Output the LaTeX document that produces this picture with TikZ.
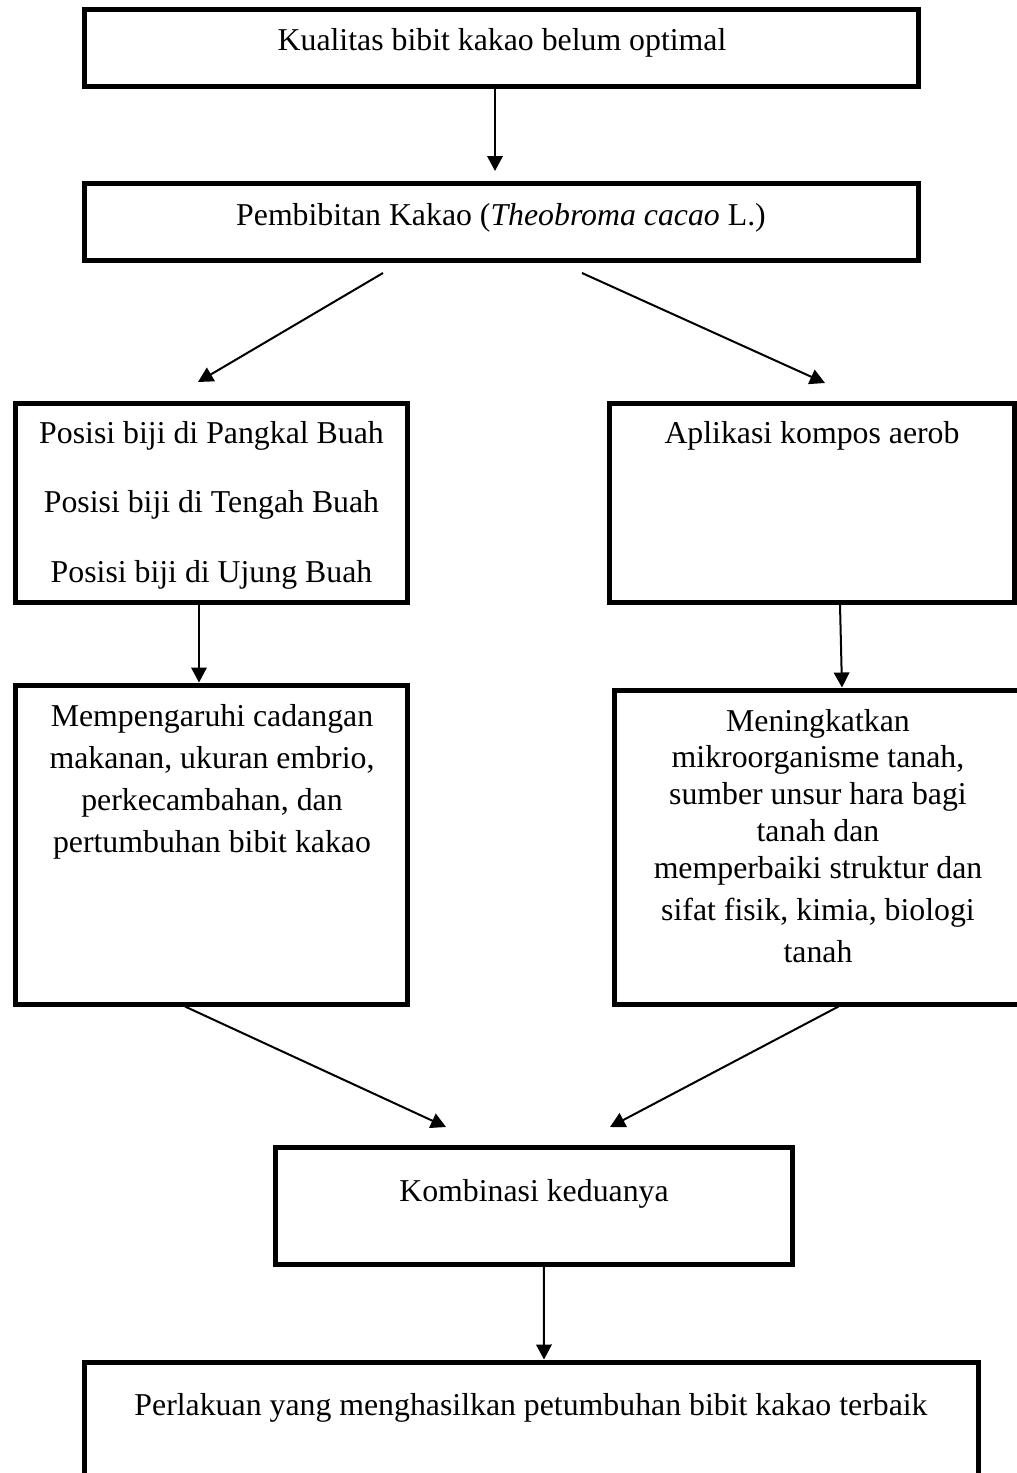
\documentclass[tikz,border=0pt]{standalone}
\usepackage{fontspec}
\setmainfont{Liberation Serif}
\usetikzlibrary{arrows.meta}
\begin{document}
\begin{tikzpicture}[x=1pt,y=-1pt,
  box/.style={draw, line width=5pt, inner sep=0pt, rectangle},
  txt/.style={font=\fontsize{31.8}{37}\selectfont, inner sep=0pt, align=center, anchor=base},
  arr/.style={line width=2pt, -{Triangle[length=15pt,width=15.5pt]}}]
\useasboundingbox (0,0) rectangle (1017,1473);
\clip (0,0) rectangle (1017,1473);
\fill[white] (0,0) rectangle (1017,1473);

% boxes
\node[box, minimum width=834pt, minimum height=76.5pt] (b1) at (501,47.75) {};
\node[box, minimum width=834pt, minimum height=77pt] (b2) at (501,222) {};
\node[box, minimum width=392pt, minimum height=199pt] (b3) at (211,502.5) {};
\node[box, minimum width=405pt, minimum height=199pt] (b4) at (811.5,502.5) {};
\node[box, minimum width=392pt, minimum height=319pt] (b5) at (211,844.5) {};
\node[box, minimum width=407pt, minimum height=314pt] (b6) at (818,847) {};
\node[box, minimum width=517.5pt, minimum height=117pt] (b7) at (533.75,1205.5) {};
\node[box, minimum width=894pt, minimum height=138pt] (b8) at (531,1431) {};

% texts (multi-line nodes are anchored at the baseline of their last line)
\node[txt] (t1) at (502,50.5) {Kualitas bibit kakao belum optimal};
\node[txt] (t2) at (501,225) {Pembibitan Kakao (\textit{Theobroma cacao} L.)};
\node[txt, font=\fontsize{31.8}{69.5}\selectfont] (t3) at (211.5,582)
  {Posisi biji di Pangkal Buah\\Posisi biji di Tengah Buah\\Posisi biji di Ujung Buah};
\node[txt] (t4) at (812,443) {Aplikasi kompos aerob};
\node[txt, font=\fontsize{31.8}{42}\selectfont] (t5) at (212,852)
  {Mempengaruhi cadangan\\makanan, ukuran embrio,\\perkecambahan, dan\\pertumbuhan bibit kakao};
\node[txt, font=\fontsize{31.8}{36.75}\selectfont] (t6) at (818,962)
  {Meningkatkan\\mikroorganisme tanah,\\sumber unsur hara bagi\\tanah dan\\memperbaiki struktur dan\\[5.25pt]sifat fisik, kimia, biologi\\[5.25pt]tanah};
\node[txt] (t7) at (534,1201) {Kombinasi keduanya};
\node[txt] (t8) at (531,1415) {Perlakuan yang menghasilkan petumbuhan bibit kakao terbaik};

% free ends of floating connectors
\coordinate (d1s) at (383,273);
\coordinate (d1e) at (198,382);
\coordinate (d2s) at (582,273);
\coordinate (d2e) at (825,383);
\coordinate (d3e) at (446,1127);
\coordinate (d4e) at (610,1127);

% connectors
\draw[arr, shorten >=10pt] ([xshift=-6pt]b1.south) -- ([xshift=-6pt]b2.north);
\draw[arr] (d1s) -- (d1e);
\draw[arr] (d2s) -- (d2e);
\draw[arr] ([xshift=-12pt]b3.south) -- ([xshift=-12pt]b5.north);
\draw[arr] ([xshift=28.5pt]b4.south) -- ([xshift=24pt]b6.north);
\draw[arr] ([xshift=-26pt]b5.south) -- (d3e);
\draw[arr] ([xshift=20.5pt]b6.south) -- (d4e);
\draw[arr] ([xshift=10pt]b7.south) -- ([xshift=13pt]b8.north);
\end{tikzpicture}
\end{document}
